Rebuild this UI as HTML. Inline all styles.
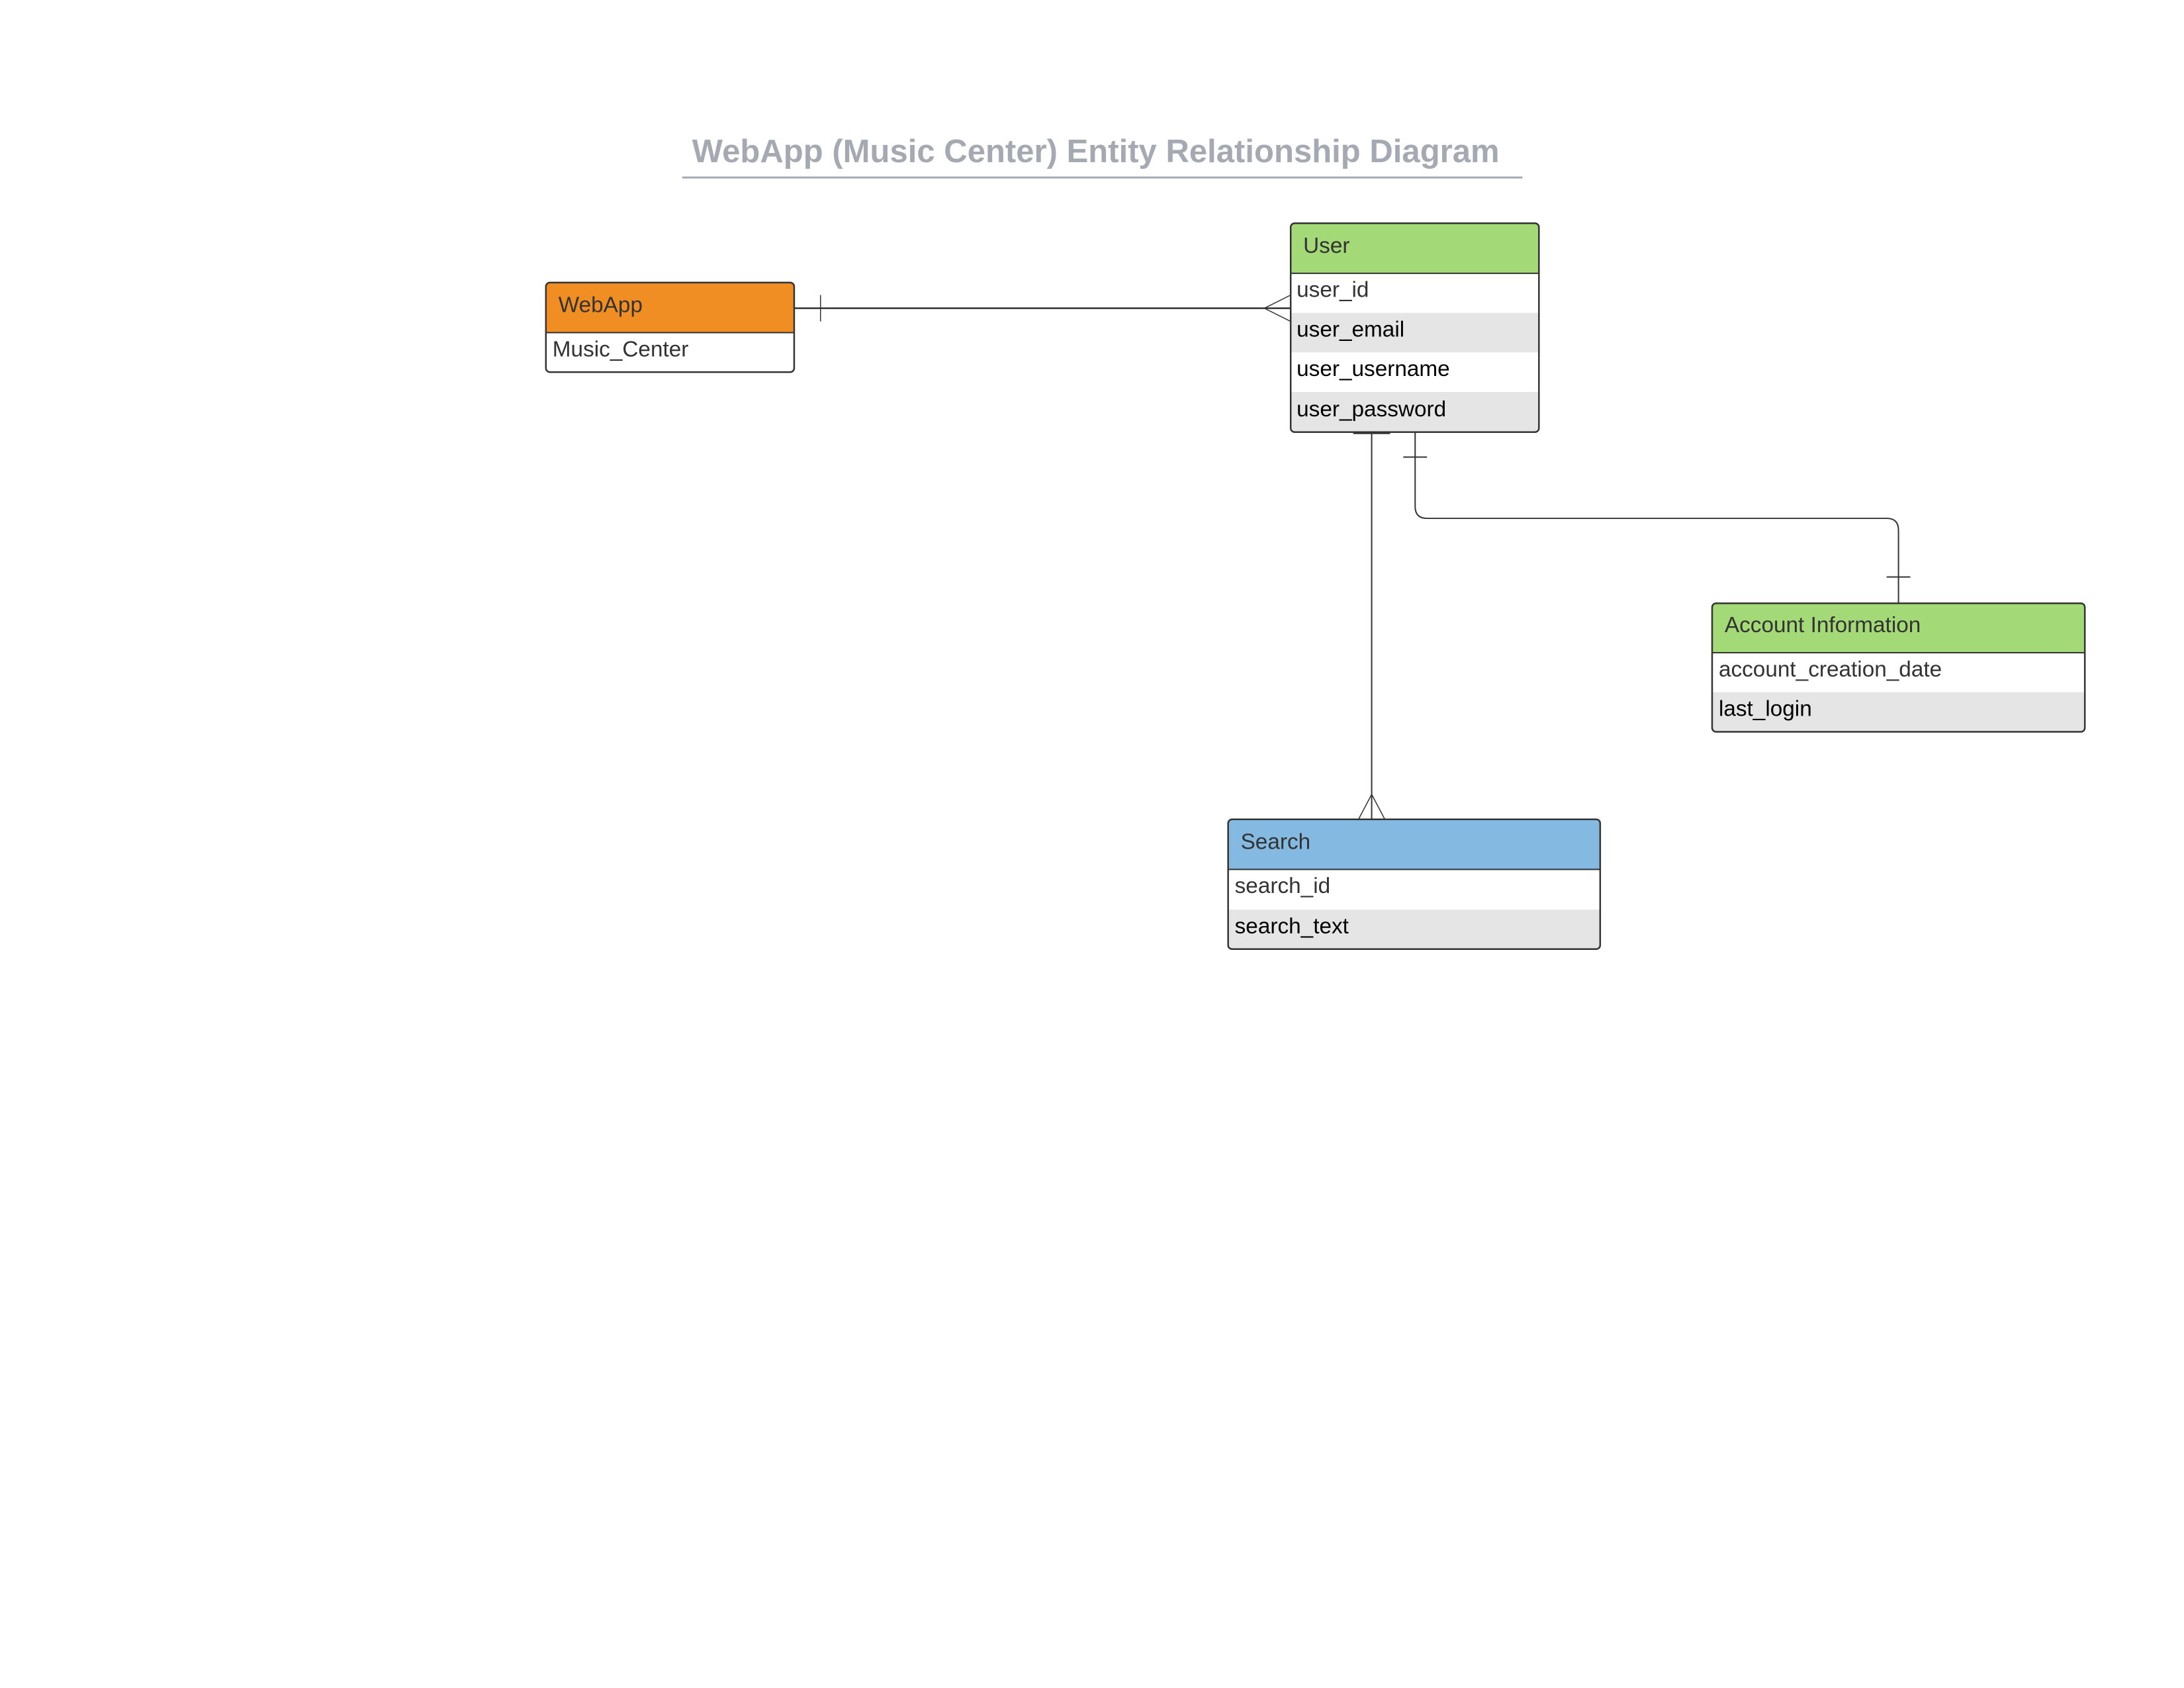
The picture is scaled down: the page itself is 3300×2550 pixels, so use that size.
<!DOCTYPE html>
<html><head><meta charset="utf-8"><style>
html,body{margin:0;padding:0;background:#fff}
svg{display:block}
text{font-family:"Liberation Sans",Arial,sans-serif}
</style></head><body>
<svg width="3300" height="2550" viewBox="0 0 3300 2550" xmlns="http://www.w3.org/2000/svg">
<rect width="3300" height="2550" fill="#fff"/>
<g transform="scale(0.995)">
<text x="1664" y="246" font-size="49.3" font-weight="bold" fill="#a5aab2" text-anchor="middle">WebApp (Music Center) Entity Relationship Diagram</text>
<rect x="1036" y="268" width="1276" height="3" fill="#a5aab2"/>

<!-- connectors -->
<g stroke="#333" stroke-width="2.5" fill="none">
<line x1="1206" y1="468" x2="1960" y2="468"/>
<line x1="1246" y1="448" x2="1246" y2="488" stroke-width="1.5"/>
<polyline points="1960,448 1920,468 1960,488" stroke-width="1.5"/>
<line x1="2083" y1="656" x2="2083" y2="1244" stroke-width="2"/>
<line x1="2055" y1="657" x2="2111" y2="657" stroke-width="4"/>
<polyline points="2063,1244 2083,1206 2103,1244" stroke-width="1.5"/>
<path d="M2149 656 V769 Q2149 787 2167 787 H2865 Q2883 787 2883 805 V916" stroke-width="2"/>
<line x1="2131" y1="694" x2="2167" y2="694" stroke-width="2"/>
<line x1="2865" y1="876" x2="2901" y2="876" stroke-width="2"/>
</g>

<!-- WebApp -->
<g>
<clipPath id="c1"><rect x="829" y="429" width="377" height="136" rx="6"/></clipPath>
<g clip-path="url(#c1)">
<rect x="829" y="429" width="377" height="136" fill="#fff"/>
<rect x="829" y="429" width="377" height="76" fill="#f08e24"/>
</g>
<line x1="829" y1="505" x2="1206" y2="505" stroke="#333" stroke-width="2"/>
<rect x="829" y="429" width="377" height="136" rx="6" fill="none" stroke="#333" stroke-width="2.5"/>
<text x="848" y="474" font-size="33.5" fill="#333">WebApp</text>
<text x="839" y="541" font-size="33.5" fill="#333">Music_Center</text>
</g>

<!-- User -->
<g>
<clipPath id="c2"><rect x="1960" y="339" width="377" height="317" rx="6"/></clipPath>
<g clip-path="url(#c2)">
<rect x="1960" y="339" width="377" height="317" fill="#fff"/>
<rect x="1960" y="339" width="377" height="76" fill="#a3d977"/>
<rect x="1960" y="475" width="377" height="60" fill="#e5e5e5"/>
<rect x="1960" y="595" width="377" height="61" fill="#e5e5e5"/>
</g>
<line x1="1960" y1="415" x2="2337" y2="415" stroke="#333" stroke-width="2"/>
<rect x="1960" y="339" width="377" height="317" rx="6" fill="none" stroke="#333" stroke-width="2.5"/>
<text x="1979" y="384" font-size="33.5" fill="#333">User</text>
<text x="1969" y="451" font-size="33.5" fill="#333">user_id</text>
<text x="1969" y="511" font-size="33.5" fill="#000">user_email</text>
<text x="1969" y="571" font-size="33.5" fill="#000">user_username</text>
<text x="1969" y="632" font-size="33.5" fill="#000">user_password</text>
</g>

<!-- Account Information -->
<g>
<clipPath id="c3"><rect x="2600" y="916" width="566" height="195" rx="6"/></clipPath>
<g clip-path="url(#c3)">
<rect x="2600" y="916" width="566" height="195" fill="#fff"/>
<rect x="2600" y="916" width="566" height="75" fill="#a3d977"/>
<rect x="2600" y="1051" width="566" height="60" fill="#e5e5e5"/>
</g>
<line x1="2600" y1="991" x2="3166" y2="991" stroke="#333" stroke-width="2"/>
<rect x="2600" y="916" width="566" height="195" rx="6" fill="none" stroke="#333" stroke-width="2.5"/>
<text x="2619" y="960" font-size="33.5" fill="#333">Account Information</text>
<text x="2610" y="1027" font-size="33.5" fill="#333">account_creation_date</text>
<text x="2610" y="1087" font-size="33.5" fill="#000">last_login</text>
</g>

<!-- Search -->
<g>
<clipPath id="c4"><rect x="1865" y="1244" width="565" height="197" rx="6"/></clipPath>
<g clip-path="url(#c4)">
<rect x="1865" y="1244" width="565" height="197" fill="#fff"/>
<rect x="1865" y="1244" width="565" height="76" fill="#84b9e1"/>
<rect x="1865" y="1381" width="565" height="60" fill="#e5e5e5"/>
</g>
<line x1="1865" y1="1320" x2="2430" y2="1320" stroke="#333" stroke-width="2"/>
<rect x="1865" y="1244" width="565" height="197" rx="6" fill="none" stroke="#333" stroke-width="2.5"/>
<text x="1884" y="1289" font-size="33.5" fill="#333">Search</text>
<text x="1875" y="1356" font-size="33.5" fill="#333">search_id</text>
<text x="1875" y="1417" font-size="33.5" fill="#000">search_text</text>
</g>
</g>
</svg>
</body></html>
